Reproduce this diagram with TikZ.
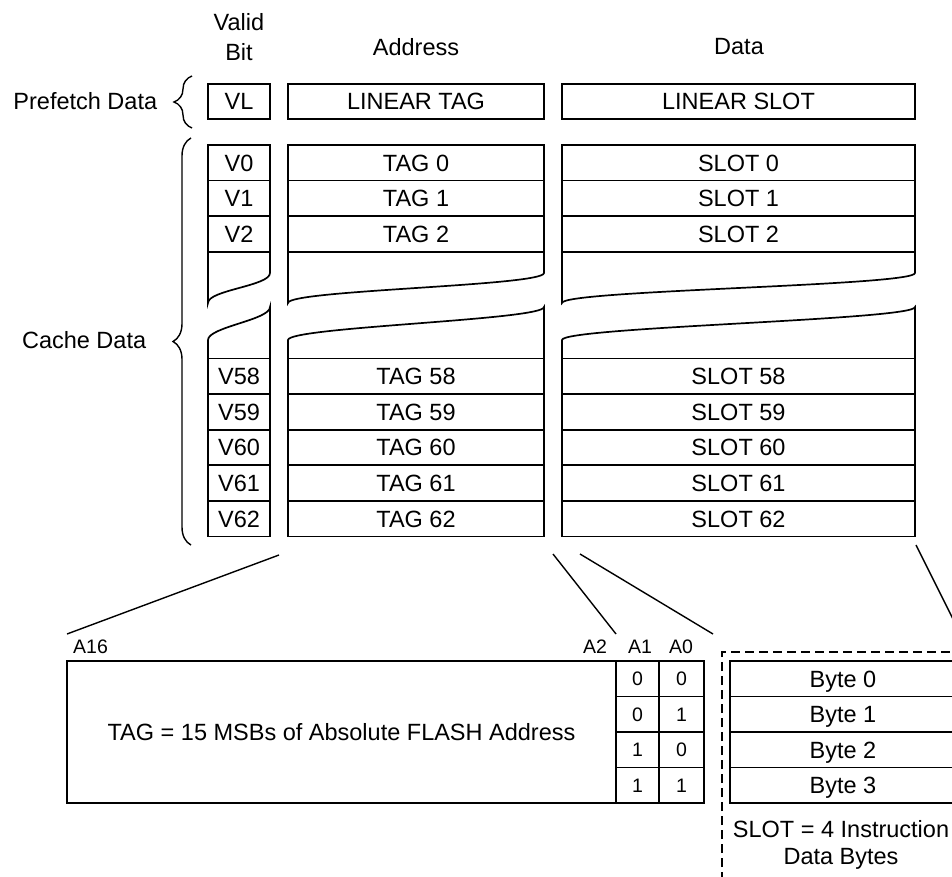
\documentclass[tikz,border=0pt]{standalone}
\usepackage{fontspec}
\setmainfont{Liberation Sans}
\usetikzlibrary{decorations.pathreplacing}

\begin{document}
\begin{tikzpicture}[x=1pt,y=-1pt,line width=1.7pt,
    cell/.style={draw,minimum height=35.6pt,inner sep=0pt,text height=16.8pt,text depth=0pt,
        font=\fontsize{23.5}{27}\selectfont},
    bitcell/.style={draw,minimum height=35.5pt,inner sep=0pt,text height=14pt,text depth=0pt,
        font=\fontsize{19.5}{22}\selectfont},
    heading/.style={font=\fontsize{23.5}{30}\selectfont,align=center,inner sep=0pt},
    caption/.style={font=\fontsize{23.5}{27}\selectfont,align=center,inner sep=0pt},
    smalllabel/.style={font=\fontsize{19.5}{22}\selectfont,inner sep=0pt},
    setbrace/.style={decorate,decoration={brace,amplitude=18pt}}]
        \useasboundingbox (0,0) rectangle (952,877);
        \clip (0,0) rectangle (952,877);
        % Column headings
        \node[heading] (hvalid) at (239,37) {Valid\\Bit};
        \node[heading] (haddr) at (416,47) {Address};
        \node[heading] (hdata) at (739,47) {Data};
        % Prefetch row
        \node[cell,minimum width=62pt] (vl) at (239,101.5) {VL};
        \node[cell,minimum width=256pt] (ltag) at (416,101.5) {LINEAR TAG};
        \node[cell,minimum width=353pt] (lslot) at (738.5,101.5) {LINEAR SLOT};
        % Cache rows, first entries
        \foreach \i in {0,1,2} {
            \node[cell,minimum width=62pt] (v\i) at (239,{162.8+35.6*\i}) {V\i};
            \node[cell,minimum width=256pt] (tag\i) at (416,{162.8+35.6*\i}) {TAG \i};
            \node[cell,minimum width=353pt] (slot\i) at (738.5,{162.8+35.6*\i}) {SLOT \i};
        }
        % Cache rows, last entries
        \foreach \i in {58,...,62} {
            \node[cell,minimum width=62pt] (v\i) at (239,{376.3+35.6*(\i-58)}) {V\i};
            \node[cell,minimum width=256pt] (tag\i) at (416,{376.3+35.6*(\i-58)}) {TAG \i};
            \node[cell,minimum width=353pt] (slot\i) at (738.5,{376.3+35.6*(\i-58)}) {SLOT \i};
        }
        % Break in the columns
        \foreach \xl/\xr in {208/270,288/544,562/915} {
            \draw (\xl,251.8) -- (\xl,303) .. controls (\xl,290) and (\xr,286) .. (\xr,273) -- (\xr,251.8);
            \draw (\xl,358.5) -- (\xl,340) .. controls (\xl,327) and (\xr,320) .. (\xr,307) -- (\xr,358.5);
        }
        % Braces and their labels
        \draw[setbrace,line width=1.4pt] (192,128) -- (192,76);
        \node[heading,anchor=east] (lprefetch) at (158,101) {Prefetch Data};
        \draw[setbrace,line width=1.4pt] (191,545) -- (191,138);
        \node[heading,anchor=east] (lcache) at (147,340) {Cache Data};
        % TAG breakdown
        \node[draw,minimum width=549pt,minimum height=142pt,inner sep=0pt,
            font=\fontsize{23.5}{27}\selectfont] (tagbox) at (341.5,732)
            {TAG = 15 MSBs of Absolute FLASH Address};
        \foreach \a/\b [count=\r from 0] in {0/0,0/1,1/0,1/1} {
            \node[bitcell,minimum width=43pt] (aone\r) at (637.5,{678.75+35.5*\r}) {\a};
            \node[bitcell,minimum width=45pt] (azero\r) at (681.5,{678.75+35.5*\r}) {\b};
        }
        \node[smalllabel] (la16) at (90.5,647) {A16};
        \node[smalllabel] (la2) at (595,647) {A2};
        \node[smalllabel] (la1) at (640,647) {A1};
        \node[smalllabel] (la0) at (681,647) {A0};
        % SLOT breakdown
        \draw[dash pattern=on 9pt off 5pt,line width=1.4pt] (722,895) -- (722,652) -- (975,652);
        \foreach \i in {0,...,3}
            \node[cell,minimum width=226pt,minimum height=35.5pt] (byte\i) at (843,{678.75+35.5*\i}) {Byte \i};
        \node[caption] (slotnote) at (841,845) {SLOT = 4 Instruction\\Data Bytes};
        % Leader lines
        \coordinate (tagleft) at (279,555);
        \coordinate (tagright) at (553,554);
        \coordinate (slotleft) at (580,554);
        \coordinate (slotright) at (916,545);
        \coordinate (tagleftend) at (67,634);
        \coordinate (tagrightend) at (616,634);
        \coordinate (slotleftend) at (713,634);
        \coordinate (slotrightend) at (964,641);
        \draw[line width=1.4pt] (tagleft) -- (tagleftend);
        \draw[line width=1.4pt] (tagright) -- (tagrightend);
        \draw[line width=1.4pt] (slotleft) -- (slotleftend);
        \draw[line width=1.4pt] (slotright) -- (slotrightend);
\end{tikzpicture}
\end{document}
